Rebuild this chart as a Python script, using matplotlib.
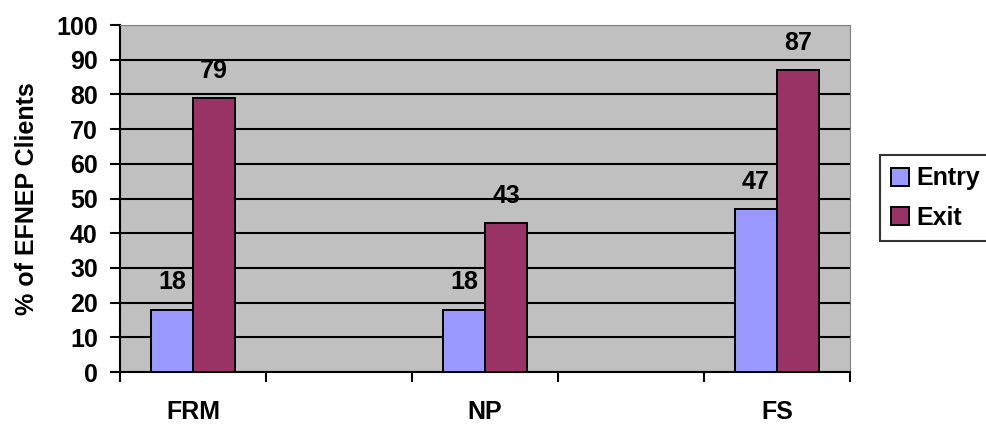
import numpy as np
import matplotlib
matplotlib.use("Agg")
import matplotlib.pyplot as plt
from matplotlib.ticker import FixedLocator

plt.rcParams["font.family"] = ["Liberation Sans", "DejaVu Sans"]
plt.rcParams["font.weight"] = "bold"

# five category slots, the 2nd and 4th left empty as spacers
categories = ["FRM", "", "NP", "", "FS"]
entry = [18, np.nan, 18, np.nan, 47]
exit_ = [79, np.nan, 43, np.nan, 87]
yticks = list(range(0, 101, 10))

fig = plt.figure(figsize=(9.86, 4.24), dpi=100)
ax = fig.add_axes([0.1217, 0.1226, 0.7404, 0.8184])
ax.set_facecolor("#C0C0C0")

x = np.arange(len(categories))
w = 0.29
b1 = ax.bar(x - w / 2, entry, w, color="#9999FF", edgecolor="black", linewidth=1.4, label="Entry", zorder=3)
b2 = ax.bar(x + w / 2, exit_, w, color="#993366", edgecolor="black", linewidth=1.4, label="Exit", zorder=3)

for bars, vals in ((b1, entry), (b2, exit_)):
    for rect, v in zip(bars, vals):
        if np.isnan(v):
            continue
        ax.annotate(f"{v:g}", (rect.get_x() + rect.get_width() / 2, v),
                    xytext=(0, 11), textcoords="offset points",
                    ha="center", va="bottom", fontsize=18, fontweight="bold")

ax.set_xlim(-0.5, len(categories) - 0.5)
ax.set_ylim(0, 100)
ax.set_yticks(yticks)
ax.yaxis.grid(True, color="black", linewidth=1.5, zorder=1)
ax.set_axisbelow(True)

ax.set_xticks(x)
ax.set_xticklabels(categories, fontsize=18, fontweight="bold")
ax.xaxis.set_minor_locator(FixedLocator(np.arange(-0.5, len(categories), 1.0)))
ax.tick_params(axis="x", which="major", length=0, pad=20)
ax.tick_params(axis="x", which="minor", length=7, width=1.5, direction="out")
ax.tick_params(axis="y", length=7, width=1.5, direction="out", labelsize=18, pad=9)
for lbl in ax.get_yticklabels():
    lbl.set_fontweight("bold")

ax.spines["left"].set_linewidth(1.5)
ax.spines["bottom"].set_linewidth(1.5)
ax.spines["top"].set_color("#808080")
ax.spines["right"].set_color("#808080")

ax.set_ylabel("% of EFNEP Clients", fontsize=18, fontweight="bold", labelpad=12)

leg = fig.legend(loc="upper left", bbox_to_anchor=(0.8925, 0.634), frameon=True,
                 fancybox=False, edgecolor="black", fontsize=18,
                 handlelength=0.72, handleheight=0.72, handletextpad=0.3,
                 borderpad=0.45, labelspacing=0.62, borderaxespad=0)
leg.get_frame().set_linewidth(1.5)
for t in leg.get_texts():
    t.set_fontweight("bold")

fig.savefig("out.png", dpi=100)
